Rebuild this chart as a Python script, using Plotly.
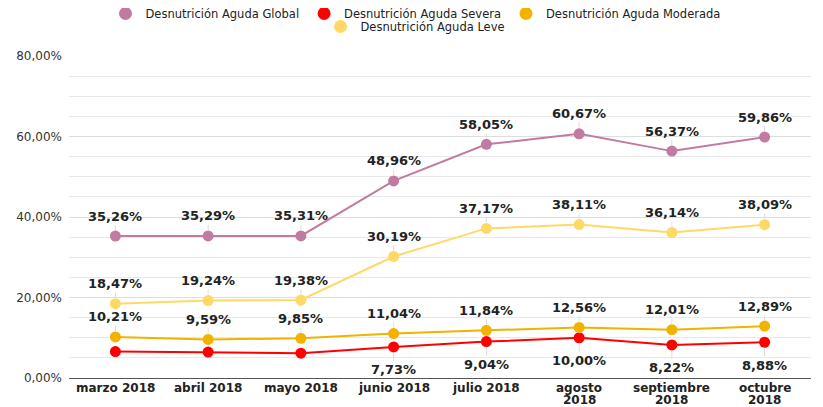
import plotly.graph_objects as go

meses = ["marzo 2018", "abril 2018", "mayo 2018", "junio 2018", "julio 2018",
         "agosto 2018", "septiembre 2018", "octubre 2018"]
mes_linea1 = ["marzo 2018", "abril 2018", "mayo 2018", "junio 2018", "julio 2018",
              "agosto", "septiembre", "octubre"]
mes_linea2 = ["", "", "", "", "", "2018", "2018", "2018"]
global_v = [35.26, 35.29, 35.31, 48.96, 58.05, 60.67, 56.37, 59.86]
severa_v = [6.58, 6.43, 6.17, 7.73, 9.04, 10.00, 8.22, 8.88]
severa_lbl = [False, False, False, True, True, True, True, True]
moderada_v = [10.21, 9.59, 9.85, 11.04, 11.84, 12.56, 12.01, 12.89]
leve_v = [18.47, 19.24, 19.38, 30.19, 37.17, 38.11, 36.14, 38.09]
y_ticks = [0, 20, 40, 60, 80]
y_tick_text = ["0,00%", "20,00%", "40,00%", "60,00%", "80,00%"]

series = [
    ("Desnutrición Aguda Global", global_v, "#C27BA0", "legend", -20, None),
    ("Desnutrición Aguda Severa", severa_v, "#FF0000", "legend", 23, severa_lbl),
    ("Desnutrición Aguda Moderada", moderada_v, "#F1B300", "legend", -20, None),
    ("Desnutrición Aguda Leve", leve_v, "#FFD966", "legend2", -20, None),
]

def fmt(v):
    return f"{v:.2f}".replace(".", ",") + "%"

fig = go.Figure()
annotations = []
for name, vals, color, lg, ay, mask in series:
    fig.add_trace(go.Scatter(
        x=meses, y=vals, name=name, mode="lines+markers",
        line=dict(color=color, width=2),
        marker=dict(color=color, size=11),
        showlegend=False,
    ))
    # legend entry: circle only
    fig.add_trace(go.Scatter(
        x=[None], y=[None], name=name, mode="markers",
        marker=dict(color=color, size=13),
        legend=lg, showlegend=True,
    ))
    for i, (m, v) in enumerate(zip(meses, vals)):
        if mask is not None and not mask[i]:
            continue
        annotations.append(dict(
            x=m, y=v, xref="x", yref="y", text=fmt(v),
            showarrow=True, arrowhead=0, arrowwidth=1, arrowcolor="#dcdcdc",
            ax=0, ay=ay, standoff=6,
            font=dict(family="DejaVu Sans", size=13, color="#222222", weight="bold"),
        ))

tick_font = dict(family="DejaVu Sans", size=12, color="#222222", weight="bold")
for m, l1, l2 in zip(meses, mes_linea1, mes_linea2):
    for txt, shift in ((l1, -10), (l2, -22)):
        if txt:
            annotations.append(dict(
                x=m, y=0, xref="x", yref="paper", text=txt, showarrow=False,
                yanchor="middle", xanchor="center", yshift=shift, font=tick_font,
                borderpad=0,
            ))

legend_font = dict(family="DejaVu Sans", size=11.5, color="#222222")
fig.update_layout(
    width=815, height=399,
    margin=dict(l=61, r=12, t=48, b=29, autoexpand=False),
    paper_bgcolor="white", plot_bgcolor="white",
    font=dict(family="DejaVu Sans", color="#333333"),
    showlegend=True,
    legend=dict(orientation="h", xref="container", yref="paper",
                x=0.5, xanchor="center", y=1.177, yanchor="top",
                font=legend_font, tracegroupgap=0, itemwidth=30,
                bgcolor="rgba(0,0,0,0)"),
    legend2=dict(orientation="h", xref="container", yref="container",
                 x=0.5, xanchor="center", y=0.99, yanchor="top",
                 font=legend_font, itemwidth=30, bgcolor="rgba(0,0,0,0)"),
    annotations=annotations,
    xaxis=dict(
        type="category", showgrid=False, showline=True, linecolor="#555555",
        linewidth=1, ticks="", automargin=False, showticklabels=False,
        range=[-0.5, 7.5],
    ),
    yaxis=dict(
        range=[0, 80], tickvals=y_ticks, ticktext=y_tick_text, automargin=False,
        showgrid=True, gridcolor="#dedede", gridwidth=1, zeroline=False,
        tickfont=dict(family="DejaVu Sans", size=12, color="#333333"),
        ticks="", ticklabelstandoff=6,
        minor=dict(dtick=5, showgrid=True, gridcolor="#e8e8e8", gridwidth=1),
    ),
)

fig.write_html("out.html")
